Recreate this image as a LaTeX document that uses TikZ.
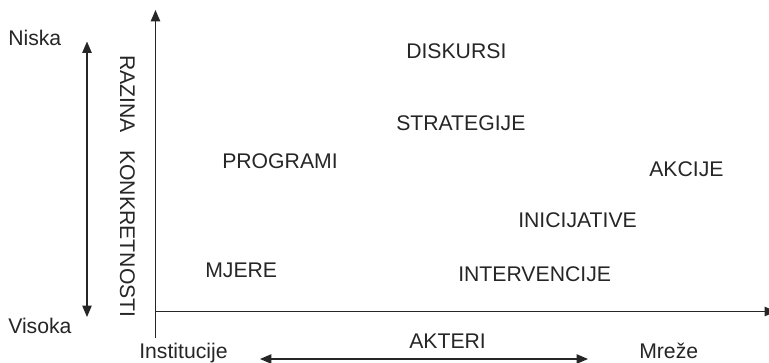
\documentclass[tikz,border=0pt]{standalone}
\usepackage{fontspec}
\setmainfont{Liberation Sans}
\usetikzlibrary{arrows.meta}
\begin{document}
\begin{tikzpicture}[x=0.75pt,y=-0.75pt,
  lbl/.style={anchor=base west,inner sep=0pt,font=\fontsize{15.9pt}{18pt}\selectfont,text=black!85},
  axis/.style={line width=1.1pt,black!85},
  tip/.style={-{Triangle[length=8.5pt,width=7pt]}},
  dtip/.style={{Triangle[length=8.5pt,width=7pt]}-{Triangle[length=8.5pt,width=7pt]}}]
\clip (0,0) rectangle (769,362);
\fill[white] (0,0) rectangle (769,362);
% axes
\coordinate (yb) at (155.5,338);
\coordinate (yt) at (155.5,10);
\coordinate (xo) at (155.5,311.5);
\coordinate (xe) at (776,311.5);
\draw[axis,tip] (yb) -- (yt);
\draw[axis,tip] (xo) -- (xe);
% left double arrow
\coordinate (lt) at (87,41.5);
\coordinate (lb) at (87,317);
\draw[line width=1pt,black!85,dtip] (lt) -- (lb);
% bottom double arrow
\coordinate (bl) at (260,359);
\coordinate (br) at (588,359);
\draw[line width=1pt,black!85,dtip] (bl) -- (br);
% labels
\node[lbl] (niska) at (8,45) {Niska};
\node[lbl] (visoka) at (8,333) {Visoka};
\node[lbl,rotate=-90] (razina) at (120,55) {RAZINA\hspace{13pt}KONKRETNOSTI};
\node[lbl] (inst) at (139,358) {Institucije};
\node[lbl] (akteri) at (409,348) {AKTERI};
\node[lbl] (mreze) at (639,358) {Mreže};
\node[lbl] (disk) at (406,58) {DISKURSI};
\node[lbl] (strat) at (396,130) {STRATEGIJE};
\node[lbl] (prog) at (222,168) {PROGRAMI};
\node[lbl] (akc) at (649,176) {AKCIJE};
\node[lbl] (inic) at (518,227) {INICIJATIVE};
\node[lbl] (mjere) at (205,277) {MJERE};
\node[lbl] (interv) at (458,281) {INTERVENCIJE};
\end{tikzpicture}
\end{document}
